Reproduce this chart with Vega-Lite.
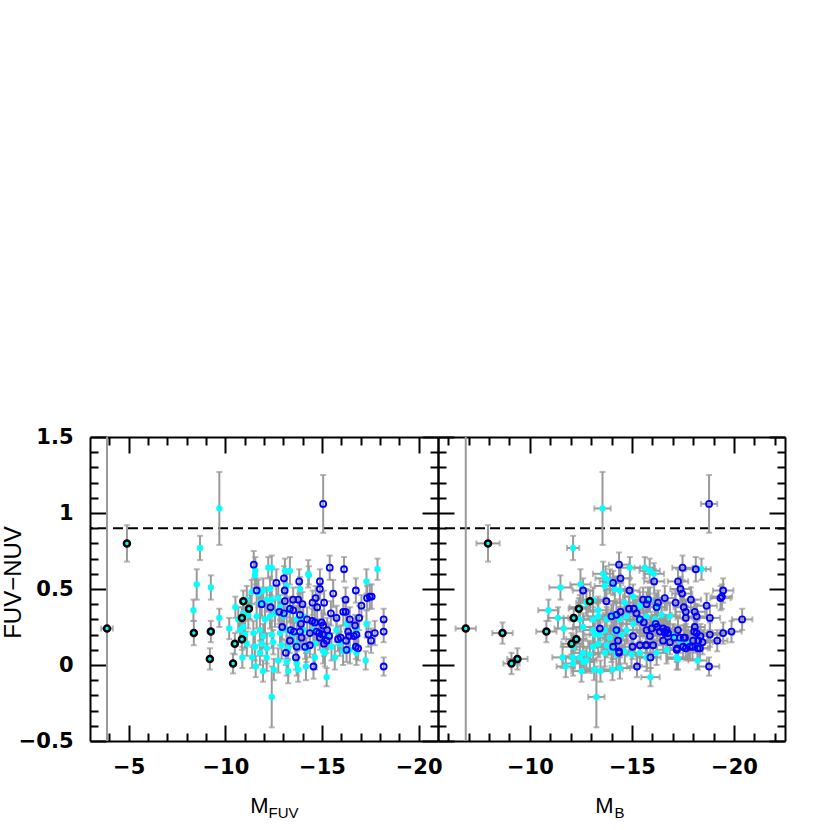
{
  "$schema": "https://vega.github.io/schema/vega-lite/v6.json",
  "padding": {"left": 1, "top": 426, "right": 5, "bottom": 0},
  "spacing": 0,
  "bounds": "flush",
  "config": {
    "view": {"stroke": null},
    "axis": {
      "domainColor": "black", "domainWidth": 2, "tickColor": "black", "tickWidth": 2,
      "grid": false, "labelFont": "DejaVu Sans", "labelFontSize": 21, "labelFontWeight": "bold", "labelColor": "black",
      "titleColor": "black", "titleFontWeight": "normal", "titleFont": "Liberation Sans",
      "labelFlush": false, "labelOverlap": false, "labelBound": false
    }
  },
  "datasets": {
    "L": [
      {"x":-3.88,"y":0.24,"ye":3,"xe":0.3,"t":"k"},
      {"x":-4.91,"y":0.80,"ye":0.12,"t":"k"},
      {"x":-8.37,"y":0.21,"ye":0.08,"t":"k"},
      {"x":-9.25,"y":0.22,"ye":0.07,"t":"k"},
      {"x":-9.2,"y":0.04,"ye":0.07,"t":"k"},
      {"x":-10.4,"y":0.01,"ye":0.065,"t":"k"},
      {"x":-10.49,"y":0.14,"ye":0.07,"t":"k"},
      {"x":-10.86,"y":0.17,"ye":0.07,"t":"k"},
      {"x":-10.86,"y":0.31,"ye":0.07,"t":"k"},
      {"x":-10.93,"y":0.42,"ye":0.07,"t":"k"},
      {"x":-11.22,"y":0.37,"ye":0.07,"t":"k"},
      {"x":-9.69,"y":1.03,"ye":0.24,"t":"c"},
      {"x":-8.69,"y":0.77,"ye":0.08,"t":"c"},
      {"x":-8.52,"y":0.53,"ye":0.10,"t":"c"},
      {"x":-9.25,"y":0.51,"ye":0.08,"t":"c"},
      {"x":-8.35,"y":0.36,"ye":0.07,"t":"c"},
      {"x":-9.69,"y":0.31,"ye":0.06,"t":"c"},
      {"x":-10.2,"y":0.24,"ye":0.07,"t":"c"},
      {"x":-10.52,"y":0.38,"ye":0.07,"t":"c"},
      {"x":-10.88,"y":0.05,"ye":0.07,"t":"c"},
      {"x":-11.39,"y":0.05,"ye":0.07,"t":"c"},
      {"x":-11.57,"y":-0.01,"ye":0.07,"t":"c"},
      {"x":-11.95,"y":-0.04,"ye":0.07,"t":"c"},
      {"x":-12.4,"y":-0.21,"ye":0.20,"t":"c"},
      {"x":-12.51,"y":-0.03,"ye":0.07,"t":"c"},
      {"x":-15.24,"y":-0.08,"ye":0.06,"t":"c"},
      {"x":-17.26,"y":0.03,"ye":0.06,"t":"c"},
      {"x":-17.87,"y":0.63,"ye":0.07,"t":"c"},
      {"x":-17.3,"y":0.55,"ye":0.08,"t":"c"},
      {"x":-11.53,"y":0.59,"ye":0.08,"t":"c"},
      {"x":-11.55,"y":0.62,"ye":0.09,"t":"c"},
      {"x":-12.22,"y":0.64,"ye":0.07,"t":"c"},
      {"x":-12.4,"y":0.64,"ye":0.08,"t":"c"},
      {"x":-13.08,"y":0.62,"ye":0.08,"t":"c"},
      {"x":-13.34,"y":0.62,"ye":0.09,"t":"c"},
      {"x":-14.32,"y":0.59,"ye":0.06,"t":"c"},
      {"x":-10.67,"y":0.30,"ye":0.08,"t":"c"},
      {"x":-10.93,"y":0.25,"ye":0.09,"t":"c"},
      {"x":-11.36,"y":0.48,"ye":0.08,"t":"c"},
      {"x":-11.71,"y":0.47,"ye":0.09,"t":"c"},
      {"x":-11.96,"y":0.49,"ye":0.08,"t":"c"},
      {"x":-11.11,"y":0.43,"ye":0.09,"t":"c"},
      {"x":-11.28,"y":0.38,"ye":0.08,"t":"c"},
      {"x":-11.79,"y":0.41,"ye":0.10,"t":"c"},
      {"x":-12.14,"y":0.43,"ye":0.08,"t":"c"},
      {"x":-12.4,"y":0.43,"ye":0.09,"t":"c"},
      {"x":-10.93,"y":0.34,"ye":0.08,"t":"c"},
      {"x":-11.19,"y":0.33,"ye":0.09,"t":"c"},
      {"x":-11.62,"y":0.32,"ye":0.08,"t":"c"},
      {"x":-12.05,"y":0.30,"ye":0.10,"t":"c"},
      {"x":-12.31,"y":0.32,"ye":0.08,"t":"c"},
      {"x":-12.57,"y":0.34,"ye":0.09,"t":"c"},
      {"x":-12.83,"y":0.38,"ye":0.08,"t":"c"},
      {"x":-13.0,"y":0.32,"ye":0.09,"t":"c"},
      {"x":-13.34,"y":0.36,"ye":0.08,"t":"c"},
      {"x":-13.69,"y":0.30,"ye":0.09,"t":"c"},
      {"x":-14.03,"y":0.32,"ye":0.08,"t":"c"},
      {"x":-10.76,"y":0.23,"ye":0.08,"t":"c"},
      {"x":-11.02,"y":0.20,"ye":0.09,"t":"c"},
      {"x":-11.45,"y":0.21,"ye":0.08,"t":"c"},
      {"x":-11.79,"y":0.23,"ye":0.10,"t":"c"},
      {"x":-11.96,"y":0.19,"ye":0.08,"t":"c"},
      {"x":-12.4,"y":0.20,"ye":0.09,"t":"c"},
      {"x":-12.83,"y":0.21,"ye":0.08,"t":"c"},
      {"x":-13.17,"y":0.23,"ye":0.09,"t":"c"},
      {"x":-13.51,"y":0.20,"ye":0.08,"t":"c"},
      {"x":-14.03,"y":0.23,"ye":0.09,"t":"c"},
      {"x":-11.11,"y":0.14,"ye":0.08,"t":"c"},
      {"x":-11.53,"y":0.12,"ye":0.09,"t":"c"},
      {"x":-11.88,"y":0.14,"ye":0.08,"t":"c"},
      {"x":-12.14,"y":0.11,"ye":0.10,"t":"c"},
      {"x":-12.48,"y":0.15,"ye":0.08,"t":"c"},
      {"x":-12.91,"y":0.13,"ye":0.09,"t":"c"},
      {"x":-13.25,"y":0.11,"ye":0.08,"t":"c"},
      {"x":-13.69,"y":0.14,"ye":0.09,"t":"c"},
      {"x":-14.2,"y":0.10,"ye":0.08,"t":"c"},
      {"x":-14.63,"y":0.14,"ye":0.09,"t":"c"},
      {"x":-15.06,"y":0.09,"ye":0.08,"t":"c"},
      {"x":-15.49,"y":0.12,"ye":0.09,"t":"c"},
      {"x":-15.92,"y":0.14,"ye":0.08,"t":"c"},
      {"x":-16.44,"y":0.10,"ye":0.09,"t":"c"},
      {"x":-11.79,"y":0.08,"ye":0.08,"t":"c"},
      {"x":-12.14,"y":0.05,"ye":0.09,"t":"c"},
      {"x":-12.74,"y":0.03,"ye":0.08,"t":"c"},
      {"x":-13.17,"y":0.02,"ye":0.09,"t":"c"},
      {"x":-13.69,"y":0.01,"ye":0.08,"t":"c"},
      {"x":-14.17,"y":-0.01,"ye":0.09,"t":"c"},
      {"x":-14.63,"y":0.05,"ye":0.08,"t":"c"},
      {"x":-15.15,"y":0.08,"ye":0.09,"t":"c"},
      {"x":-15.66,"y":0.05,"ye":0.08,"t":"c"},
      {"x":-16.09,"y":0.09,"ye":0.09,"t":"c"},
      {"x":-16.78,"y":0.08,"ye":0.08,"t":"c"},
      {"x":-13.25,"y":-0.04,"ye":0.08,"t":"c"},
      {"x":-13.77,"y":-0.03,"ye":0.08,"t":"c"},
      {"x":-12.31,"y":0.50,"ye":0.08,"t":"c"},
      {"x":-12.74,"y":0.44,"ye":0.09,"t":"c"},
      {"x":-13.17,"y":0.52,"ye":0.08,"t":"c"},
      {"x":-14.29,"y":0.60,"ye":0.09,"t":"c"},
      {"x":-13.86,"y":0.50,"ye":0.08,"t":"c"},
      {"x":-14.55,"y":0.23,"ye":0.08,"t":"c"},
      {"x":-15.24,"y":0.19,"ye":0.09,"t":"c"},
      {"x":-15.75,"y":0.23,"ye":0.08,"t":"c"},
      {"x":-16.27,"y":0.27,"ye":0.09,"t":"c"},
      {"x":-16.78,"y":0.23,"ye":0.08,"t":"c"},
      {"x":-17.3,"y":0.27,"ye":0.09,"t":"c"},
      {"x":-15.06,"y":1.06,"ye":0.19,"t":"b"},
      {"x":-11.47,"y":0.66,"ye":0.09,"t":"b"},
      {"x":-15.4,"y":0.64,"ye":0.08,"t":"b"},
      {"x":-16.14,"y":0.63,"ye":0.08,"t":"b"},
      {"x":-16.75,"y":0.49,"ye":0.08,"t":"b"},
      {"x":-17.04,"y":0.39,"ye":0.07,"t":"b"},
      {"x":-17.33,"y":0.44,"ye":0.08,"t":"b"},
      {"x":-17.47,"y":0.45,"ye":0.08,"t":"b"},
      {"x":-17.57,"y":0.45,"ye":0.08,"t":"b"},
      {"x":-18.19,"y":0.30,"ye":0.07,"t":"b"},
      {"x":-18.19,"y":0.22,"ye":0.07,"t":"b"},
      {"x":-18.19,"y":-0.01,"ye":0.06,"t":"b"},
      {"x":-17.4,"y":0.20,"ye":0.08,"t":"b"},
      {"x":-17.73,"y":0.21,"ye":0.08,"t":"b"},
      {"x":-17.54,"y":0.16,"ye":0.08,"t":"b"},
      {"x":-16.92,"y":0.31,"ye":0.08,"t":"b"},
      {"x":-16.71,"y":0.26,"ye":0.07,"t":"b"},
      {"x":-16.44,"y":0.30,"ye":0.08,"t":"b"},
      {"x":-16.1,"y":0.35,"ye":0.09,"t":"b"},
      {"x":-16.23,"y":0.35,"ye":0.08,"t":"b"},
      {"x":-15.75,"y":0.31,"ye":0.08,"t":"b"},
      {"x":-15.58,"y":0.47,"ye":0.09,"t":"b"},
      {"x":-15.11,"y":0.41,"ye":0.08,"t":"b"},
      {"x":-14.89,"y":0.55,"ye":0.08,"t":"b"},
      {"x":-14.89,"y":0.50,"ye":0.07,"t":"b"},
      {"x":-14.67,"y":0.44,"ye":0.08,"t":"b"},
      {"x":-14.75,"y":0.38,"ye":0.08,"t":"b"},
      {"x":-15.46,"y":0.34,"ye":0.08,"t":"b"},
      {"x":-13.82,"y":0.55,"ye":0.08,"t":"b"},
      {"x":-13.03,"y":0.57,"ye":0.08,"t":"b"},
      {"x":-12.64,"y":0.54,"ye":0.09,"t":"b"},
      {"x":-13.07,"y":0.49,"ye":0.08,"t":"b"},
      {"x":-11.62,"y":0.49,"ye":0.08,"t":"b"},
      {"x":-11.88,"y":0.40,"ye":0.08,"t":"b"},
      {"x":-12.34,"y":0.38,"ye":0.08,"t":"b"},
      {"x":-13.08,"y":0.42,"ye":0.08,"t":"b"},
      {"x":-13.51,"y":0.43,"ye":0.08,"t":"b"},
      {"x":-13.77,"y":0.43,"ye":0.08,"t":"b"},
      {"x":-13.99,"y":0.40,"ye":0.08,"t":"b"},
      {"x":-14.51,"y":0.41,"ye":0.08,"t":"b"},
      {"x":-12.79,"y":0.35,"ye":0.08,"t":"b"},
      {"x":-13.03,"y":0.34,"ye":0.08,"t":"b"},
      {"x":-13.34,"y":0.37,"ye":0.08,"t":"b"},
      {"x":-13.51,"y":0.36,"ye":0.08,"t":"b"},
      {"x":-13.86,"y":0.33,"ye":0.08,"t":"b"},
      {"x":-13.91,"y":0.27,"ye":0.08,"t":"b"},
      {"x":-14.23,"y":0.30,"ye":0.08,"t":"b"},
      {"x":-14.49,"y":0.29,"ye":0.08,"t":"b"},
      {"x":-14.63,"y":0.28,"ye":0.08,"t":"b"},
      {"x":-14.98,"y":0.28,"ye":0.08,"t":"b"},
      {"x":-15.06,"y":0.26,"ye":0.08,"t":"b"},
      {"x":-12.94,"y":0.25,"ye":0.08,"t":"b"},
      {"x":-13.38,"y":0.23,"ye":0.08,"t":"b"},
      {"x":-13.55,"y":0.22,"ye":0.08,"t":"b"},
      {"x":-13.86,"y":0.22,"ye":0.08,"t":"b"},
      {"x":-14.37,"y":0.21,"ye":0.08,"t":"b"},
      {"x":-13.34,"y":0.16,"ye":0.08,"t":"b"},
      {"x":-13.94,"y":0.18,"ye":0.08,"t":"b"},
      {"x":-13.69,"y":0.12,"ye":0.08,"t":"b"},
      {"x":-14.13,"y":0.12,"ye":0.08,"t":"b"},
      {"x":-14.37,"y":0.13,"ye":0.08,"t":"b"},
      {"x":-14.72,"y":0.22,"ye":0.08,"t":"b"},
      {"x":-14.85,"y":0.21,"ye":0.08,"t":"b"},
      {"x":-15.03,"y":0.20,"ye":0.08,"t":"b"},
      {"x":-15.27,"y":0.23,"ye":0.08,"t":"b"},
      {"x":-15.37,"y":0.19,"ye":0.08,"t":"b"},
      {"x":-15.24,"y":0.16,"ye":0.08,"t":"b"},
      {"x":-15.83,"y":0.17,"ye":0.08,"t":"b"},
      {"x":-15.97,"y":0.18,"ye":0.08,"t":"b"},
      {"x":-16.25,"y":0.16,"ye":0.08,"t":"b"},
      {"x":-16.27,"y":0.10,"ye":0.08,"t":"b"},
      {"x":-16.4,"y":0.19,"ye":0.08,"t":"b"},
      {"x":-16.65,"y":0.19,"ye":0.08,"t":"b"},
      {"x":-16.75,"y":0.12,"ye":0.08,"t":"b"},
      {"x":-16.87,"y":0.11,"ye":0.08,"t":"b"},
      {"x":-13.65,"y":0.05,"ye":0.08,"t":"b"},
      {"x":-14.56,"y":-0.01,"ye":0.08,"t":"b"},
      {"x":-13.13,"y":0.08,"ye":0.08,"t":"b"},
      {"x":-16.22,"y":0.43,"ye":0.08,"t":"b"},
      {"x":-16.35,"y":0.22,"ye":0.08,"t":"b"},
      {"x":-16.78,"y":0.20,"ye":0.08,"t":"b"},
      {"x":-15.1,"y":0.14,"ye":0.08,"t":"b"},
      {"x":-14.89,"y":0.18,"ye":0.08,"t":"b"}
    ],
    "R": [
      {"x":-6.86,"y":0.24,"ye":3,"xe":0.5,"t":"k"},
      {"x":-7.95,"y":0.80,"ye":0.12,"xe":0.57,"t":"k"},
      {"x":-8.66,"y":0.21,"ye":0.07,"xe":0.5,"t":"k"},
      {"x":-9.1,"y":0.01,"ye":0.07,"xe":0.4,"t":"k"},
      {"x":-9.39,"y":0.04,"ye":0.07,"xe":0.5,"t":"k"},
      {"x":-10.81,"y":0.22,"ye":0.07,"xe":0.5,"t":"k"},
      {"x":-12.04,"y":0.14,"ye":0.07,"xe":0.5,"t":"k"},
      {"x":-12.28,"y":0.17,"ye":0.07,"xe":0.5,"t":"k"},
      {"x":-12.15,"y":0.31,"ye":0.07,"xe":0.5,"t":"k"},
      {"x":-12.4,"y":0.37,"ye":0.07,"xe":0.5,"t":"k"},
      {"x":-12.94,"y":0.42,"ye":0.07,"xe":0.5,"t":"k"},
      {"x":-13.56,"y":1.03,"ye":0.24,"xe":0.4,"t":"c"},
      {"x":-12.12,"y":0.77,"ye":0.08,"xe":0.3,"t":"c"},
      {"x":-11.5,"y":0.51,"ye":0.08,"xe":0.55,"t":"c"},
      {"x":-10.91,"y":0.36,"ye":0.07,"xe":0.5,"t":"c"},
      {"x":-11.38,"y":0.31,"ye":0.07,"xe":0.5,"t":"c"},
      {"x":-11.66,"y":0.24,"ye":0.07,"xe":0.45,"t":"c"},
      {"x":-12.48,"y":0.53,"ye":0.10,"xe":0.5,"t":"c"},
      {"x":-13.26,"y":-0.21,"ye":0.20,"xe":0.4,"t":"c"},
      {"x":-11.6,"y":0.05,"ye":0.07,"xe":0.5,"t":"c"},
      {"x":-11.76,"y":-0.01,"ye":0.07,"xe":0.45,"t":"c"},
      {"x":-12.09,"y":0.05,"ye":0.07,"xe":0.5,"t":"c"},
      {"x":-12.53,"y":-0.04,"ye":0.07,"xe":0.5,"t":"c"},
      {"x":-12.64,"y":0.02,"ye":0.07,"xe":0.5,"t":"c"},
      {"x":-13.15,"y":-0.03,"ye":0.07,"xe":0.5,"t":"c"},
      {"x":-13.46,"y":-0.04,"ye":0.07,"xe":0.5,"t":"c"},
      {"x":-14.05,"y":-0.03,"ye":0.07,"xe":0.5,"t":"c"},
      {"x":-14.41,"y":-0.02,"ye":0.07,"xe":0.5,"t":"c"},
      {"x":-15.91,"y":-0.08,"ye":0.06,"xe":0.45,"t":"c"},
      {"x":-14.9,"y":0.64,"ye":0.07,"xe":0.5,"t":"c"},
      {"x":-15.63,"y":0.64,"ye":0.07,"xe":0.5,"t":"c"},
      {"x":-15.87,"y":0.62,"ye":0.08,"xe":0.5,"t":"c"},
      {"x":-16.07,"y":0.60,"ye":0.07,"xe":0.5,"t":"c"},
      {"x":-13.59,"y":0.60,"ye":0.08,"xe":0.5,"t":"c"},
      {"x":-13.71,"y":0.57,"ye":0.08,"xe":0.5,"t":"c"},
      {"x":-18.41,"y":0.63,"ye":0.07,"xe":0.45,"t":"c"},
      {"x":-17.26,"y":0.04,"ye":0.07,"xe":0.5,"t":"c"},
      {"x":-18.22,"y":0.03,"ye":0.06,"xe":0.45,"t":"c"},
      {"x":-12.45,"y":0.30,"ye":0.08,"xe":0.5,"t":"c"},
      {"x":-12.61,"y":0.25,"ye":0.09,"xe":0.5,"t":"c"},
      {"x":-12.12,"y":0.12,"ye":0.08,"xe":0.5,"t":"c"},
      {"x":-12.61,"y":0.08,"ye":0.09,"xe":0.5,"t":"c"},
      {"x":-13.1,"y":0.23,"ye":0.08,"xe":0.5,"t":"c"},
      {"x":-13.18,"y":0.20,"ye":0.09,"xe":0.5,"t":"c"},
      {"x":-13.43,"y":0.20,"ye":0.08,"xe":0.5,"t":"c"},
      {"x":-13.67,"y":0.23,"ye":0.09,"xe":0.5,"t":"c"},
      {"x":-13.92,"y":0.18,"ye":0.08,"xe":0.5,"t":"c"},
      {"x":-14.17,"y":0.22,"ye":0.09,"xe":0.5,"t":"c"},
      {"x":-14.49,"y":0.20,"ye":0.08,"xe":0.5,"t":"c"},
      {"x":-14.74,"y":0.23,"ye":0.09,"xe":0.5,"t":"c"},
      {"x":-13.1,"y":0.12,"ye":0.08,"xe":0.5,"t":"c"},
      {"x":-13.35,"y":0.14,"ye":0.09,"xe":0.5,"t":"c"},
      {"x":-13.76,"y":0.13,"ye":0.08,"xe":0.5,"t":"c"},
      {"x":-13.67,"y":0.08,"ye":0.09,"xe":0.5,"t":"c"},
      {"x":-14.0,"y":0.10,"ye":0.08,"xe":0.5,"t":"c"},
      {"x":-14.24,"y":0.07,"ye":0.09,"xe":0.5,"t":"c"},
      {"x":-14.65,"y":0.09,"ye":0.08,"xe":0.5,"t":"c"},
      {"x":-14.98,"y":0.07,"ye":0.09,"xe":0.5,"t":"c"},
      {"x":-15.39,"y":0.08,"ye":0.08,"xe":0.5,"t":"c"},
      {"x":-15.72,"y":0.05,"ye":0.09,"xe":0.5,"t":"c"},
      {"x":-16.21,"y":0.08,"ye":0.08,"xe":0.5,"t":"c"},
      {"x":-16.7,"y":0.10,"ye":0.09,"xe":0.5,"t":"c"},
      {"x":-17.19,"y":0.05,"ye":0.08,"xe":0.5,"t":"c"},
      {"x":-13.92,"y":0.55,"ye":0.08,"xe":0.5,"t":"c"},
      {"x":-13.67,"y":0.52,"ye":0.09,"xe":0.5,"t":"c"},
      {"x":-14.16,"y":0.50,"ye":0.08,"xe":0.5,"t":"c"},
      {"x":-14.41,"y":0.49,"ye":0.08,"xe":0.5,"t":"c"},
      {"x":-14.65,"y":0.41,"ye":0.09,"xe":0.5,"t":"c"},
      {"x":-15.06,"y":0.45,"ye":0.08,"xe":0.5,"t":"c"},
      {"x":-15.39,"y":0.39,"ye":0.09,"xe":0.5,"t":"c"},
      {"x":-15.88,"y":0.43,"ye":0.08,"xe":0.5,"t":"c"},
      {"x":-16.21,"y":0.38,"ye":0.09,"xe":0.5,"t":"c"},
      {"x":-13.1,"y":0.30,"ye":0.08,"xe":0.5,"t":"c"},
      {"x":-13.35,"y":0.32,"ye":0.09,"xe":0.5,"t":"c"},
      {"x":-13.76,"y":0.30,"ye":0.08,"xe":0.5,"t":"c"},
      {"x":-14.08,"y":0.33,"ye":0.09,"xe":0.5,"t":"c"},
      {"x":-14.41,"y":0.30,"ye":0.08,"xe":0.5,"t":"c"},
      {"x":-14.74,"y":0.32,"ye":0.09,"xe":0.5,"t":"c"},
      {"x":-15.06,"y":0.27,"ye":0.08,"xe":0.5,"t":"c"},
      {"x":-15.39,"y":0.30,"ye":0.09,"xe":0.5,"t":"c"},
      {"x":-15.72,"y":0.32,"ye":0.08,"xe":0.5,"t":"c"},
      {"x":-16.13,"y":0.30,"ye":0.09,"xe":0.5,"t":"c"},
      {"x":-16.45,"y":0.33,"ye":0.08,"xe":0.5,"t":"c"},
      {"x":-16.86,"y":0.32,"ye":0.09,"xe":0.5,"t":"c"},
      {"x":-17.35,"y":0.16,"ye":0.08,"xe":0.5,"t":"c"},
      {"x":-17.75,"y":0.14,"ye":0.09,"xe":0.5,"t":"c"},
      {"x":-17.02,"y":0.19,"ye":0.08,"xe":0.5,"t":"c"},
      {"x":-12.45,"y":0.38,"ye":0.08,"xe":0.5,"t":"c"},
      {"x":-12.77,"y":0.41,"ye":0.09,"xe":0.5,"t":"c"},
      {"x":-13.1,"y":0.43,"ye":0.08,"xe":0.5,"t":"c"},
      {"x":-13.35,"y":0.36,"ye":0.09,"xe":0.5,"t":"c"},
      {"x":-12.12,"y":0.01,"ye":0.08,"xe":0.5,"t":"c"},
      {"x":-12.45,"y":0.05,"ye":0.09,"xe":0.5,"t":"c"},
      {"x":-12.77,"y":0.03,"ye":0.08,"xe":0.5,"t":"c"},
      {"x":-12.94,"y":0.07,"ye":0.09,"xe":0.5,"t":"c"},
      {"x":-18.78,"y":1.06,"ye":0.19,"xe":0.4,"t":"b"},
      {"x":-14.37,"y":0.66,"ye":0.08,"xe":0.5,"t":"b"},
      {"x":-14.44,"y":0.57,"ye":0.08,"xe":0.5,"t":"b"},
      {"x":-14.08,"y":0.54,"ye":0.08,"xe":0.5,"t":"b"},
      {"x":-17.48,"y":0.64,"ye":0.08,"xe":0.5,"t":"b"},
      {"x":-18.13,"y":0.63,"ye":0.08,"xe":0.5,"t":"b"},
      {"x":-17.26,"y":0.55,"ye":0.08,"xe":0.5,"t":"b"},
      {"x":-17.38,"y":0.50,"ye":0.08,"xe":0.5,"t":"b"},
      {"x":-17.46,"y":0.47,"ye":0.08,"xe":0.5,"t":"b"},
      {"x":-16.09,"y":0.55,"ye":0.08,"xe":0.5,"t":"b"},
      {"x":-14.88,"y":0.49,"ye":0.08,"xe":0.5,"t":"b"},
      {"x":-12.61,"y":0.49,"ye":0.08,"xe":0.5,"t":"b"},
      {"x":-13.75,"y":0.42,"ye":0.08,"xe":0.5,"t":"b"},
      {"x":-15.55,"y":0.43,"ye":0.08,"xe":0.5,"t":"b"},
      {"x":-15.79,"y":0.43,"ye":0.08,"xe":0.5,"t":"b"},
      {"x":-16.28,"y":0.41,"ye":0.08,"xe":0.5,"t":"b"},
      {"x":-16.61,"y":0.44,"ye":0.08,"xe":0.5,"t":"b"},
      {"x":-17.14,"y":0.41,"ye":0.08,"xe":0.5,"t":"b"},
      {"x":-17.89,"y":0.43,"ye":0.08,"xe":0.5,"t":"b"},
      {"x":-18.66,"y":0.39,"ye":0.08,"xe":0.5,"t":"b"},
      {"x":-19.34,"y":0.44,"ye":0.08,"xe":0.5,"t":"b"},
      {"x":-19.41,"y":0.45,"ye":0.08,"xe":0.5,"t":"b"},
      {"x":-19.47,"y":0.49,"ye":0.08,"xe":0.5,"t":"b"},
      {"x":-20.4,"y":0.30,"ye":0.07,"xe":0.5,"t":"b"},
      {"x":-19.88,"y":0.22,"ye":0.07,"xe":0.5,"t":"b"},
      {"x":-19.47,"y":0.21,"ye":0.07,"xe":0.5,"t":"b"},
      {"x":-19.18,"y":0.16,"ye":0.07,"xe":0.5,"t":"b"},
      {"x":-18.82,"y":0.31,"ye":0.08,"xe":0.5,"t":"b"},
      {"x":-18.82,"y":0.20,"ye":0.08,"xe":0.5,"t":"b"},
      {"x":-18.78,"y":-0.01,"ye":0.06,"xe":0.5,"t":"b"},
      {"x":-17.64,"y":0.35,"ye":0.08,"xe":0.5,"t":"b"},
      {"x":-17.64,"y":0.31,"ye":0.08,"xe":0.5,"t":"b"},
      {"x":-18.08,"y":0.35,"ye":0.08,"xe":0.5,"t":"b"},
      {"x":-18.17,"y":0.32,"ye":0.08,"xe":0.5,"t":"b"},
      {"x":-18.08,"y":0.25,"ye":0.08,"xe":0.5,"t":"b"},
      {"x":-18.17,"y":0.21,"ye":0.08,"xe":0.5,"t":"b"},
      {"x":-18.25,"y":0.16,"ye":0.08,"xe":0.5,"t":"b"},
      {"x":-18.36,"y":0.19,"ye":0.08,"xe":0.5,"t":"b"},
      {"x":-18.46,"y":0.15,"ye":0.08,"xe":0.5,"t":"b"},
      {"x":-17.26,"y":0.23,"ye":0.08,"xe":0.5,"t":"b"},
      {"x":-17.19,"y":0.10,"ye":0.08,"xe":0.5,"t":"b"},
      {"x":-17.54,"y":0.18,"ye":0.08,"xe":0.5,"t":"b"},
      {"x":-17.64,"y":0.11,"ye":0.08,"xe":0.5,"t":"b"},
      {"x":-17.84,"y":0.12,"ye":0.08,"xe":0.5,"t":"b"},
      {"x":-18.0,"y":0.16,"ye":0.08,"xe":0.5,"t":"b"},
      {"x":-18.22,"y":0.11,"ye":0.08,"xe":0.5,"t":"b"},
      {"x":-16.53,"y":0.16,"ye":0.08,"xe":0.5,"t":"b"},
      {"x":-16.86,"y":0.15,"ye":0.08,"xe":0.5,"t":"b"},
      {"x":-16.77,"y":0.21,"ye":0.08,"xe":0.5,"t":"b"},
      {"x":-16.61,"y":0.21,"ye":0.08,"xe":0.5,"t":"b"},
      {"x":-15.25,"y":-0.01,"ye":0.07,"xe":0.5,"t":"b"},
      {"x":-15.91,"y":0.05,"ye":0.07,"xe":0.5,"t":"b"},
      {"x":-16.04,"y":0.13,"ye":0.08,"xe":0.5,"t":"b"},
      {"x":-15.72,"y":0.13,"ye":0.08,"xe":0.5,"t":"b"},
      {"x":-15.03,"y":0.12,"ye":0.08,"xe":0.5,"t":"b"},
      {"x":-14.37,"y":0.09,"ye":0.08,"xe":0.5,"t":"b"},
      {"x":-14.08,"y":0.12,"ye":0.08,"xe":0.5,"t":"b"},
      {"x":-14.24,"y":0.23,"ye":0.08,"xe":0.5,"t":"b"},
      {"x":-14.32,"y":0.16,"ye":0.08,"xe":0.5,"t":"b"},
      {"x":-13.43,"y":0.24,"ye":0.08,"xe":0.5,"t":"b"},
      {"x":-14.0,"y":0.32,"ye":0.08,"xe":0.5,"t":"b"},
      {"x":-14.24,"y":0.33,"ye":0.08,"xe":0.5,"t":"b"},
      {"x":-14.44,"y":0.35,"ye":0.08,"xe":0.5,"t":"b"},
      {"x":-14.86,"y":0.37,"ye":0.08,"xe":0.5,"t":"b"},
      {"x":-15.09,"y":0.37,"ye":0.08,"xe":0.5,"t":"b"},
      {"x":-15.22,"y":0.34,"ye":0.08,"xe":0.5,"t":"b"},
      {"x":-15.39,"y":0.30,"ye":0.08,"xe":0.5,"t":"b"},
      {"x":-15.58,"y":0.28,"ye":0.08,"xe":0.5,"t":"b"},
      {"x":-15.72,"y":0.23,"ye":0.08,"xe":0.5,"t":"b"},
      {"x":-15.96,"y":0.24,"ye":0.08,"xe":0.5,"t":"b"},
      {"x":-16.16,"y":0.27,"ye":0.08,"xe":0.5,"t":"b"},
      {"x":-16.24,"y":0.25,"ye":0.08,"xe":0.5,"t":"b"},
      {"x":-16.37,"y":0.22,"ye":0.08,"xe":0.5,"t":"b"},
      {"x":-16.61,"y":0.22,"ye":0.08,"xe":0.5,"t":"b"},
      {"x":-15.72,"y":0.40,"ye":0.08,"xe":0.5,"t":"b"},
      {"x":-16.21,"y":0.38,"ye":0.08,"xe":0.5,"t":"b"},
      {"x":-17.54,"y":0.38,"ye":0.08,"xe":0.5,"t":"b"},
      {"x":-16.53,"y":0.24,"ye":0.08,"xe":0.5,"t":"b"},
      {"x":-15.06,"y":0.19,"ye":0.08,"xe":0.5,"t":"b"},
      {"x":-15.39,"y":0.13,"ye":0.08,"xe":0.5,"t":"b"},
      {"x":-15.68,"y":0.13,"ye":0.08,"xe":0.5,"t":"b"},
      {"x":-15.88,"y":0.19,"ye":0.08,"xe":0.5,"t":"b"},
      {"x":-16.7,"y":0.23,"ye":0.08,"xe":0.5,"t":"b"},
      {"x":-17.07,"y":0.18,"ye":0.08,"xe":0.5,"t":"b"},
      {"x":-18.05,"y":0.22,"ye":0.08,"xe":0.5,"t":"b"},
      {"x":-18.33,"y":0.11,"ye":0.08,"xe":0.5,"t":"b"},
      {"x":-17.97,"y":0.12,"ye":0.08,"xe":0.5,"t":"b"},
      {"x":-17.6,"y":0.18,"ye":0.08,"xe":0.5,"t":"b"},
      {"x":-17.22,"y":0.11,"ye":0.08,"xe":0.5,"t":"b"},
      {"x":-17.51,"y":0.12,"ye":0.08,"xe":0.5,"t":"b"},
      {"x":-17.35,"y":0.18,"ye":0.08,"xe":0.5,"t":"b"},
      {"x":-14.37,"y":0.08,"ye":0.08,"xe":0.5,"t":"b"}
    ]
  },
  "hconcat": [
    {
      "width": 348, "height": 304,
      "resolve": {"axis": {"x": "independent", "y": "independent"}},
      "layer": [
        {
          "data": {"values": [{"thr": 0.9}]},
          "mark": {"type": "rule", "color": "black", "strokeWidth": 2, "strokeDash": [10, 5]},
          "encoding": {"y": {"field": "thr", "type": "quantitative", "scale": {"domain": [-0.5, 1.5], "nice": false, "zero": false}, "axis": null}}
        },
        {
          "data": {"name": "L"},
          "mark": {"type": "errorbar", "ticks": {"size": 6}, "thickness": 2, "color": "#9a9a9a", "clip": true},
          "encoding": {
            "x": {"field": "x", "type": "quantitative", "scale": {"domain": [-3, -21], "nice": false, "zero": false}, "axis": null},
            "y": {"field": "y", "type": "quantitative", "axis": null},
            "yError": {"field": "ye"}
          }
        },
        {
          "data": {"name": "L"},
          "transform": [{"filter": "datum.xe > 0"}],
          "mark": {"type": "errorbar", "ticks": {"size": 6}, "thickness": 2, "color": "#9a9a9a", "clip": true},
          "encoding": {
            "x": {"field": "x", "type": "quantitative", "axis": null},
            "xError": {"field": "xe"},
            "y": {"field": "y", "type": "quantitative", "axis": null}
          }
        },
        {
          "data": {"name": "L"},
          "transform": [{"filter": "datum.t === 'c' && datum.y >= 0.3"}],
          "mark": {"type": "circle", "color": "#00ffff", "opacity": 1, "size": 40},
          "encoding": {
            "x": {"field": "x", "type": "quantitative", "axis": {
              "orient": "bottom", "values": [-5,-10,-15,-20], "format": "d",
              "tickSize": -16, "labelPadding": 31, "title": "M", "titleFontSize": 22, "titleX": 169, "titleY": 71,
              "titleBaseline": "alphabetic", "titleAlign": "center"}},
            "y": {"field": "y", "type": "quantitative", "axis": {
              "orient": "left", "values": [-0.5,0,0.5,1,1.5], "format": "~g",
              "tickSize": -16, "labelPadding": 33, "labelBaseline": "middle",
              "title": "FUV−NUV", "titleFontSize": 24, "titleX": -77, "titleY": 145, "titleAngle": -90,
              "titleBaseline": "middle", "titleAlign": "center"}}
          }
        },
        {
          "data": {"name": "L"},
          "transform": [{"filter": "datum.t === 'c' && datum.y < 0.3"}],
          "mark": {"type": "circle", "color": "#00ffff", "opacity": 1, "size": 40},
          "encoding": {
            "x": {"field": "x", "type": "quantitative", "axis": {
              "orient": "top", "values": [-5,-10,-15,-20], "labels": false, "tickSize": -16,
              "title": "FUV", "titleFontSize": 15, "titleX": 193, "titleY": 380,
              "titleBaseline": "alphabetic", "titleAlign": "center"}},
            "y": {"field": "y", "type": "quantitative", "axis": {
              "orient": "right", "values": [-0.5,0,0.5,1,1.5], "labels": false, "title": null, "tickSize": -16}}
          }
        },
        {
          "data": {"name": "L"},
          "transform": [{"filter": "datum.t === 'b'"}],
          "mark": {"type": "point", "shape": "circle", "filled": false, "stroke": "#0000ff", "strokeWidth": 1.8, "opacity": 1, "size": 36},
          "encoding": {
            "x": {"field": "x", "type": "quantitative", "axis": {
              "orient": "bottom", "values": [-4,-6,-7,-8,-9,-11,-12,-13,-14,-16,-17,-18,-19],
              "labels": false, "domain": false, "tickSize": -8, "title": null}},
            "y": {"field": "y", "type": "quantitative", "axis": {
              "orient": "left", "values": [-0.4,-0.3,-0.2,-0.1,0.1,0.2,0.3,0.4,0.6,0.7,0.8,0.9,1.1,1.2,1.3,1.4],
              "labels": false, "domain": false, "tickSize": -8, "title": null}}
          }
        },
        {
          "data": {"name": "L"},
          "transform": [{"filter": "datum.t === 'k'"}],
          "mark": {"type": "circle", "fill": "#00ffff", "stroke": "black", "strokeWidth": 2.5, "opacity": 1, "size": 36},
          "encoding": {
            "x": {"field": "x", "type": "quantitative", "axis": {
              "orient": "top", "values": [-4,-6,-7,-8,-9,-11,-12,-13,-14,-16,-17,-18,-19],
              "labels": false, "domain": false, "tickSize": -8, "title": null}},
            "y": {"field": "y", "type": "quantitative", "axis": {
              "orient": "right", "values": [-0.4,-0.3,-0.2,-0.1,0.1,0.2,0.3,0.4,0.6,0.7,0.8,0.9,1.1,1.2,1.3,1.4],
              "labels": false, "domain": false, "tickSize": -8, "title": null}}
          }
        }
      ]
    },
    {
      "width": 347, "height": 304,
      "resolve": {"axis": {"x": "independent", "y": "independent"}},
      "layer": [
        {
          "data": {"values": [{"thr": 0.9}]},
          "mark": {"type": "rule", "color": "black", "strokeWidth": 2, "strokeDash": [10, 5]},
          "encoding": {"y": {"field": "thr", "type": "quantitative", "scale": {"domain": [-0.5, 1.5], "nice": false, "zero": false}, "axis": null}}
        },
        {
          "data": {"name": "R"},
          "mark": {"type": "errorbar", "ticks": {"size": 6}, "thickness": 2, "color": "#9a9a9a", "clip": true},
          "encoding": {
            "x": {"field": "x", "type": "quantitative", "scale": {"domain": [-5.5, -22.5], "nice": false, "zero": false}, "axis": null},
            "y": {"field": "y", "type": "quantitative", "axis": null},
            "yError": {"field": "ye"}
          }
        },
        {
          "data": {"name": "R"},
          "transform": [{"filter": "datum.xe > 0"}],
          "mark": {"type": "errorbar", "ticks": {"size": 6}, "thickness": 2, "color": "#9a9a9a", "clip": true},
          "encoding": {
            "x": {"field": "x", "type": "quantitative", "axis": null},
            "xError": {"field": "xe"},
            "y": {"field": "y", "type": "quantitative", "axis": null}
          }
        },
        {
          "data": {"name": "R"},
          "transform": [{"filter": "datum.t === 'c' && datum.y >= 0.3"}],
          "mark": {"type": "circle", "color": "#00ffff", "opacity": 1, "size": 40},
          "encoding": {
            "x": {"field": "x", "type": "quantitative", "axis": {
              "orient": "bottom", "values": [-10,-15,-20], "format": "d",
              "tickSize": -16, "labelPadding": 31, "title": "M", "titleFontSize": 22, "titleX": 166, "titleY": 71,
              "titleBaseline": "alphabetic", "titleAlign": "center"}},
            "y": {"field": "y", "type": "quantitative", "axis": {
              "orient": "left", "values": [-0.5,0,0.5,1,1.5], "labels": false, "title": null, "tickSize": -16}}
          }
        },
        {
          "data": {"name": "R"},
          "transform": [{"filter": "datum.t === 'c' && datum.y < 0.3"}],
          "mark": {"type": "circle", "color": "#00ffff", "opacity": 1, "size": 40},
          "encoding": {
            "x": {"field": "x", "type": "quantitative", "axis": {
              "orient": "top", "values": [-10,-15,-20], "labels": false, "tickSize": -16,
              "title": "B", "titleFontSize": 15, "titleX": 181, "titleY": 380,
              "titleBaseline": "alphabetic", "titleAlign": "center"}},
            "y": {"field": "y", "type": "quantitative", "axis": {
              "orient": "right", "values": [-0.5,0,0.5,1,1.5], "labels": false, "title": null, "tickSize": -16}}
          }
        },
        {
          "data": {"name": "R"},
          "transform": [{"filter": "datum.t === 'b'"}],
          "mark": {"type": "point", "shape": "circle", "filled": false, "stroke": "#0000ff", "strokeWidth": 1.8, "opacity": 1, "size": 36},
          "encoding": {
            "x": {"field": "x", "type": "quantitative", "axis": {
              "orient": "bottom", "values": [-6,-7,-8,-9,-11,-12,-13,-14,-16,-17,-18,-19,-21,-22],
              "labels": false, "domain": false, "tickSize": -8, "title": null}},
            "y": {"field": "y", "type": "quantitative", "axis": {
              "orient": "left", "values": [-0.4,-0.3,-0.2,-0.1,0.1,0.2,0.3,0.4,0.6,0.7,0.8,0.9,1.1,1.2,1.3,1.4],
              "labels": false, "domain": false, "tickSize": -8, "title": null}}
          }
        },
        {
          "data": {"name": "R"},
          "transform": [{"filter": "datum.t === 'k'"}],
          "mark": {"type": "circle", "fill": "#00ffff", "stroke": "black", "strokeWidth": 2.5, "opacity": 1, "size": 36},
          "encoding": {
            "x": {"field": "x", "type": "quantitative", "axis": {
              "orient": "top", "values": [-6,-7,-8,-9,-11,-12,-13,-14,-16,-17,-18,-19,-21,-22],
              "labels": false, "domain": false, "tickSize": -8, "title": null}},
            "y": {"field": "y", "type": "quantitative", "axis": {
              "orient": "right", "values": [-0.4,-0.3,-0.2,-0.1,0.1,0.2,0.3,0.4,0.6,0.7,0.8,0.9,1.1,1.2,1.3,1.4],
              "labels": false, "domain": false, "tickSize": -8, "title": null}}
          }
        }
      ]
    }
  ]
}
